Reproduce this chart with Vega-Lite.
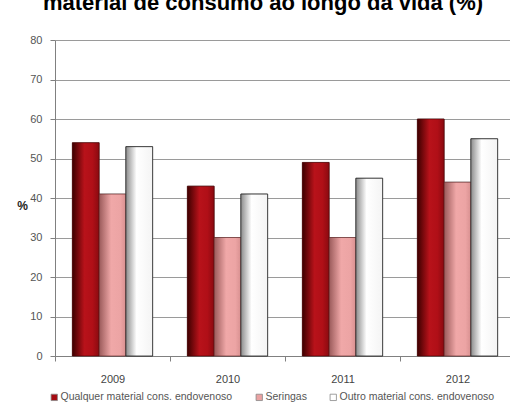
{
  "$schema": "https://vega.github.io/schema/vega-lite/v6.json",
  "autosize": "none",
  "padding": {"left": 55, "top": 40, "right": 0, "bottom": 56},
  "width": 460,
  "height": 316,
  "background": "white",
  "title": {
    "text": "material de consumo ao longo da vida (%)",
    "font": "Liberation Sans",
    "fontSize": 22,
    "fontWeight": "bold",
    "color": "#000000",
    "anchor": "start",
    "frame": "group",
    "baseline": "alphabetic",
    "dx": -12,
    "offset": 2
  },
  "data": {
    "values": [
      {"ano": "2009", "serie": "Qualquer material cons. endovenoso", "valor": 54},
      {"ano": "2009", "serie": "Seringas", "valor": 41},
      {"ano": "2009", "serie": "Outro material cons. endovenoso", "valor": 53},
      {"ano": "2010", "serie": "Qualquer material cons. endovenoso", "valor": 43},
      {"ano": "2010", "serie": "Seringas", "valor": 30},
      {"ano": "2010", "serie": "Outro material cons. endovenoso", "valor": 41},
      {"ano": "2011", "serie": "Qualquer material cons. endovenoso", "valor": 49},
      {"ano": "2011", "serie": "Seringas", "valor": 30},
      {"ano": "2011", "serie": "Outro material cons. endovenoso", "valor": 45},
      {"ano": "2012", "serie": "Qualquer material cons. endovenoso", "valor": 60},
      {"ano": "2012", "serie": "Seringas", "valor": 44},
      {"ano": "2012", "serie": "Outro material cons. endovenoso", "valor": 55}
    ]
  },
  "encoding": {
    "x": {
      "field": "ano", "type": "nominal",
      "scale": {"paddingInner": 0, "paddingOuter": 0},
      "axis": {
        "title": null, "labelAngle": 0, "tickBand": "extent",
        "domainColor": "#808080", "tickColor": "#808080", "tickSize": 5,
        "labelColor": "#444444", "labelFont": "Liberation Sans",
        "labelFontSize": 11, "labelPadding": 12, "grid": false
      }
    },
    "xOffset": {
      "field": "serie", "type": "nominal",
      "sort": ["Qualquer material cons. endovenoso", "Seringas", "Outro material cons. endovenoso"],
      "scale": {"paddingInner": 0, "paddingOuter": 0.65}
    },
    "y": {
      "field": "valor", "type": "quantitative",
      "scale": {"domain": [0, 80], "nice": false},
      "axis": {
        "values": [0, 10, 20, 30, 40, 50, 60, 70, 80],
        "title": "%", "titleAngle": 0, "titleFont": "Liberation Sans", "titleFontSize": 12,
        "titleFontWeight": "bold", "titleColor": "#222222",
        "titleX": -33, "titleY": 172, "titleAlign": "center",
        "domainColor": "#808080", "tickColor": "#808080", "tickSize": 5,
        "gridColor": "#9a9a9a", "gridWidth": 1,
        "labelColor": "#555555", "labelFont": "Liberation Sans",
        "labelFontSize": 11, "labelPadding": 8
      }
    }
  },
  "layer": [
    {
      "mark": {"type": "bar", "stroke": "#555555", "strokeWidth": 0.6},
      "encoding": {
        "color": {
          "field": "serie", "type": "nominal",
          "sort": ["Qualquer material cons. endovenoso", "Seringas", "Outro material cons. endovenoso"],
          "scale": {
            "domain": ["Qualquer material cons. endovenoso", "Seringas", "Outro material cons. endovenoso"],
            "range": ["#a50a12", "#eaa2a2", "#ffffff"]
          },
          "legend": {
            "title": null, "orient": "none", "direction": "horizontal",
            "legendX": -6, "legendY": 352,
            "symbolType": "square", "symbolSize": 40, "symbolStrokeColor": "#888888", "symbolStrokeWidth": 0.8,
            "labelFont": "Liberation Sans", "labelFontSize": 10.5, "labelColor": "#555555",
            "labelLimit": 0, "labelOffset": 1, "columnPadding": 21, "symbolOffset": 0
          }
        }
      }
    },
    {
      "transform": [{"filter": "datum.serie === 'Qualquer material cons. endovenoso'"}],
      "mark": {
        "type": "bar", "stroke": "#4a0000", "strokeWidth": 0.6,
        "fill": {"gradient": "linear", "x1": 0, "y1": 0, "x2": 1, "y2": 0,
          "stops": [{"offset": 0, "color": "#3d0000"}, {"offset": 0.45, "color": "#b8121a"}, {"offset": 0.75, "color": "#b00f17"}, {"offset": 1, "color": "#8a0a10"}]}
      }
    },
    {
      "transform": [{"filter": "datum.serie === 'Seringas'"}],
      "mark": {
        "type": "bar", "stroke": "#5a2020", "strokeWidth": 0.6,
        "fill": {"gradient": "linear", "x1": 0, "y1": 0, "x2": 1, "y2": 0,
          "stops": [{"offset": 0, "color": "#9a5a5a"}, {"offset": 0.45, "color": "#f0a8a8"}, {"offset": 0.8, "color": "#eca4a4"}, {"offset": 1, "color": "#d89090"}]}
      }
    },
    {
      "transform": [{"filter": "datum.serie === 'Outro material cons. endovenoso'"}],
      "mark": {
        "type": "bar", "stroke": "#222222", "strokeWidth": 0.8,
        "fill": {"gradient": "linear", "x1": 0, "y1": 0, "x2": 1, "y2": 0,
          "stops": [{"offset": 0, "color": "#8c8c8c"}, {"offset": 0.4, "color": "#ffffff"}, {"offset": 1, "color": "#f4f4f4"}]}
      }
    }
  ],
  "config": {"view": {"stroke": null}}
}
